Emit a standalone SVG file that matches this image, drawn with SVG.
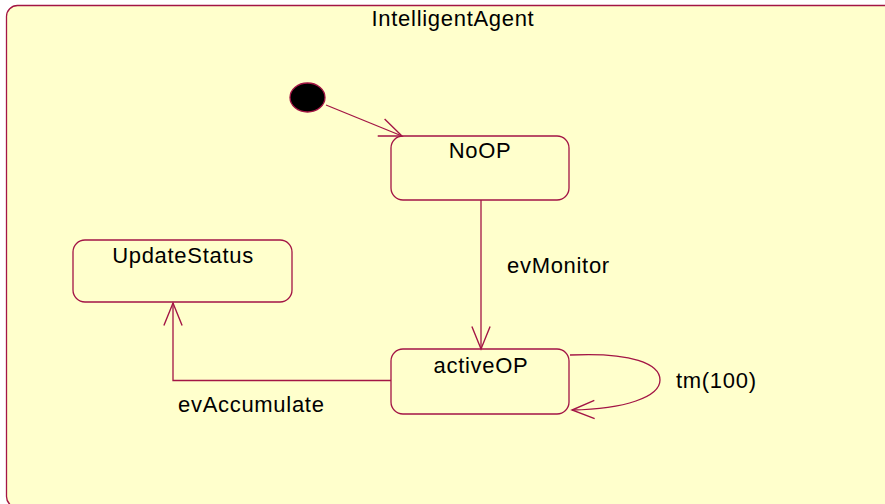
<svg xmlns="http://www.w3.org/2000/svg" width="885" height="504" viewBox="0 0 885 504">
  <style>
    .box { fill: #FFFFCC; stroke: #A31545; stroke-width: 1.3; }
    .line { fill: none; stroke: #A31545; stroke-width: 1.3; }
    .lbl { font-family: "Liberation Sans", Arial, sans-serif; font-size: 22px; letter-spacing: 0.7px; fill: #000000; }
    .mid { text-anchor: middle; }
  </style>
  <defs>
    <marker id="arr" markerUnits="userSpaceOnUse" markerWidth="30" markerHeight="30" viewBox="-24 -12 28 24" refX="0" refY="0" orient="auto">
      <path d="M -21 -8.5 L 0 0 L -21 8.5" fill="none" stroke="#A31545" stroke-width="1.3"/>
    </marker>
  </defs>
  <rect width="885" height="504" fill="#FFFFFF"/>
  <g id="IntelligentAgent">
    <rect class="box" x="6.5" y="5.5" width="900" height="502" rx="11" ry="11"/>
    <text class="lbl mid" x="453" y="26">IntelligentAgent</text>
  </g>
  <g id="initial">
    <ellipse cx="307.5" cy="97.5" rx="17.5" ry="14.5" fill="#000000" stroke="#A31545" stroke-width="1.3"/>
  </g>
  <g id="NoOP">
    <rect class="box" x="391" y="136" width="178" height="64" rx="12" ry="12"/>
    <text class="lbl mid" x="480" y="158">NoOP</text>
  </g>
  <g id="UpdateStatus">
    <rect class="box" x="73" y="240" width="219" height="62" rx="12" ry="12"/>
    <text class="lbl mid" x="183" y="263">UpdateStatus</text>
  </g>
  <g id="activeOP">
    <rect class="box" x="391" y="349" width="178" height="65" rx="12" ry="12"/>
    <text class="lbl mid" x="481" y="373">activeOP</text>
  </g>
  <g id="connectors">
    <path class="line" d="M 326 105 L 402 136" marker-end="url(#arr)"/>
    <path class="line" d="M 481 200 L 481 349" marker-end="url(#arr)"/>
    <path class="line" d="M 391 380.5 L 173 380.5 L 173 303" marker-end="url(#arr)"/>
    <path class="line" d="M 570 355 C 632 352, 660 364, 660 380 C 660 397, 625 409, 572 410" marker-end="url(#arr)"/>
    <text class="lbl" x="507" y="273">evMonitor</text>
    <text class="lbl" x="178" y="412">evAccumulate</text>
    <text class="lbl" x="676" y="388">tm(100)</text>
  </g>
</svg>
